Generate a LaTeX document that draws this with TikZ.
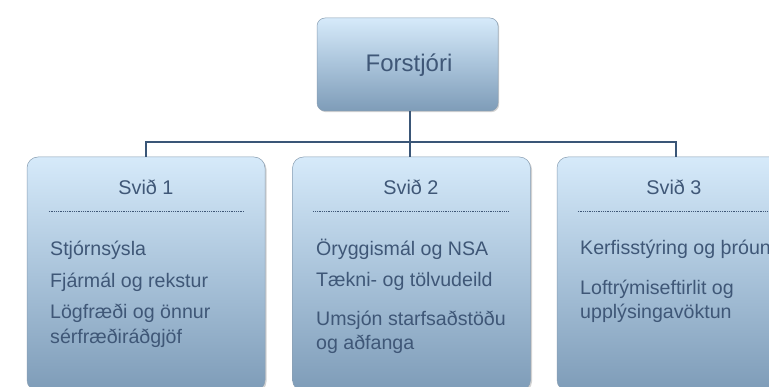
\documentclass[tikz,border=0pt]{standalone}
\usepackage{fontspec}
\setmainfont{Liberation Sans}
\usetikzlibrary{shadows}
\definecolor{txt}{HTML}{3F5777}
\definecolor{conn}{HTML}{3A5677}
\definecolor{boxtop}{HTML}{D6EAFA}
\definecolor{boxmid}{HTML}{A9C3DA}
\definecolor{boxbot}{HTML}{7E9CB8}
\definecolor{boxedge}{HTML}{8A9FB3}
\tikzset{
  x=1pt, y=-1pt,
  bossbox/.style={rounded corners=8pt, minimum width=181pt, minimum height=93pt,
    top color=boxtop, bottom color=boxbot, middle color=boxmid,
    draw=boxedge, line width=0.5pt,
    drop shadow={shadow xshift=1.2pt, shadow yshift=-1.2pt, opacity=0.35},
    inner sep=0pt},
  unitbox/.style={rounded corners=11pt, minimum width=238pt, minimum height=234pt,
    top color=boxtop, bottom color=boxbot, middle color=boxmid,
    draw=boxedge, line width=0.5pt,
    drop shadow={shadow xshift=1.5pt, shadow yshift=-1.5pt, opacity=0.35},
    inner sep=0pt},
  bosstext/.style={anchor=base, text=txt, font={\fontsize{24}{28}\selectfont}, inner sep=0pt},
  head/.style={anchor=base, text=txt, font={\fontsize{19.8}{23}\selectfont}, inner sep=0pt},
  item/.style={anchor=base west, align=left, text=txt, inner sep=0pt,
    font={\fontsize{19.6}{24.5}\selectfont}},
  sep/.style={draw=txt, line width=0.9pt, dash pattern=on 0.9pt off 0.9pt},
  conline/.style={draw=conn, line width=1.8pt}
}
\begin{document}
\begin{tikzpicture}
\useasboundingbox (0,0) rectangle (769,387);
\clip (0,0) rectangle (769,387);
\fill[white] (0,0) rectangle (769,387);

% boss
\node[bossbox] (boss) at (407.5,64.5) {};
\node[bosstext] (bosst) at (409,72) {Forstjóri};

% units
\node[unitbox] (b1) at (146,274) {};
\node[unitbox] (b2) at (411.5,274) {};
\node[unitbox] (b3) at (676,274) {};

% connectors
\coordinate (j) at (410,142);
\draw[conline] (boss.south -| j) -- (j);
\draw[conline] (b1.north) -- (b1.north |- j) -- (b3.north |- j) -- (b3.north);
\draw[conline] (b2.north -| j) -- (j);

% headers
\node[head] (h1) at (146,195) {Svið 1};
\node[head] (h2) at (411,195) {Svið 2};
\node[head] (h3) at (674,195) {Svið 3};
\draw[sep] ([xshift=22pt,yshift=-55pt]b1.north west) -- ([xshift=-22pt,yshift=-55pt]b1.north east);
\draw[sep] ([xshift=21pt,yshift=-55pt]b2.north west) -- ([xshift=-22pt,yshift=-55pt]b2.north east);
\draw[sep] ([xshift=21pt,yshift=-55pt]b3.north west) -- ([xshift=-22pt,yshift=-55pt]b3.north east);

% items unit 1 (multi-line nodes: base = last line)
\node[item] (i11) at (50,256) {Stjórnsýsla};
\node[item] (i12) at (50,288) {Fjármál og rekstur};
\node[item] (i13) at (50,343.5) {Lögfræði og önnur\\sérfræðiráðgjöf};

% items unit 2
\node[item] (i21) at (316,256) {Öryggismál og NSA};
\node[item] (i22) at (316,287) {Tækni- og tölvudeild};
\node[item] (i23) at (316,350) {Umsjón starfsaðstöðu\\og aðfanga};

% items unit 3
\node[item] (i31) at (580,255) {Kerfisstýring og þróun};
\node[item] (i32) at (580,319) {Loftrýmiseftirlit og\\upplýsingavöktun};
\end{tikzpicture}
\end{document}
